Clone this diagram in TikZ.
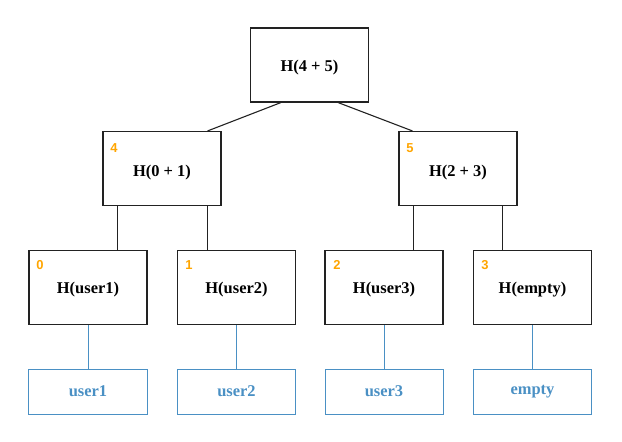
\documentclass[tikz,border=0pt]{standalone}
\usepackage{fontspec}
\setmainfont{Liberation Serif}
\newfontfamily\idxfont{Liberation Sans}
\definecolor{hashline}{HTML}{222222}
\definecolor{leafblue}{HTML}{4A90C4}
\definecolor{idxorange}{HTML}{FFA500}
\begin{document}
\begin{tikzpicture}[x=1bp,y=-1bp,
  hashbox/.style={draw=hashline, line width=1.1bp, minimum width=118bp, minimum height=74bp,
    inner sep=0pt},
  hashtext/.style={font=\bfseries\fontsize{16.5}{18}\selectfont, inner sep=0pt},
  leafbox/.style={draw=leafblue, line width=1bp, minimum width=118bp, minimum height=45bp,
    inner sep=0pt, text=leafblue, font=\bfseries\fontsize{16.5}{18}\selectfont},
  idx/.style={text=idxorange, font=\idxfont\bfseries\fontsize{13}{15}\selectfont, inner sep=0pt},
  tree/.style={draw=hashline, line width=1.1bp},
  leafline/.style={draw=leafblue, line width=1bp}]
\useasboundingbox (0,0) rectangle (622,442);

% root
\node[hashbox] (root) at (309.5,65) {};
\node[hashtext] (rootlbl) at (309.5,68) {H(4 + 5)};

% second level
\node[hashbox] (n4) at (162,168.5) {};
\node[hashbox] (n5) at (458,168.5) {};
\node[hashtext] (n4lbl) at (162,172.5) {H(0 + 1)};
\node[hashtext] (n5lbl) at (458,172.5) {H(2 + 3)};
\node[idx] (i4) at (114,148) {4};
\node[idx] (i5) at (410,148) {5};

% hashed leaves
\node[hashbox] (n0) at (88,287.5) {};
\node[hashbox] (n1) at (236.5,287.5) {};
\node[hashbox] (n2) at (384,287.5) {};
\node[hashbox] (n3) at (532.5,287.5) {};
\node[hashtext] (n0lbl) at (88,289.5) {H(user1)};
\node[hashtext] (n1lbl) at (236.5,289.5) {H(user2)};
\node[hashtext] (n2lbl) at (384,289.5) {H(user3)};
\node[hashtext] (n3lbl) at (532.5,289.5) {H(empty)};
\node[idx] (i0) at (40,265) {0};
\node[idx] (i1) at (189,265) {1};
\node[idx] (i2) at (337,265) {2};
\node[idx] (i3) at (485,265) {3};

% raw data
\node[leafbox] (d0) at (88,391.5) {user1};
\node[leafbox] (d1) at (236.5,391.5) {user2};
\node[leafbox] (d2) at (384,391.5) {user3};
\node[leafbox] (d3) at (532.5,391.5) {empty};

% connectors
\draw[tree] ([xshift=31bp]root.south west) -- ([xshift=-14bp]n4.north east);
\draw[tree] ([xshift=-31bp]root.south east) -- ([xshift=14bp]n5.north west);
\draw[tree] ([xshift=15bp]n4.south west) -- ([xshift=15bp]n4.south west |- n0.north);
\draw[tree] ([xshift=-14bp]n4.south east) -- ([xshift=-14bp]n4.south east |- n1.north);
\draw[tree] ([xshift=15bp]n5.south west) -- ([xshift=15bp]n5.south west |- n2.north);
\draw[tree] ([xshift=-15bp]n5.south east) -- ([xshift=-15bp]n5.south east |- n3.north);
\draw[leafline] (n0.south) -- (d0.north);
\draw[leafline] (n1.south) -- (d1.north);
\draw[leafline] (n2.south) -- (d2.north);
\draw[leafline] (n3.south) -- (d3.north);
\end{tikzpicture}
\end{document}
